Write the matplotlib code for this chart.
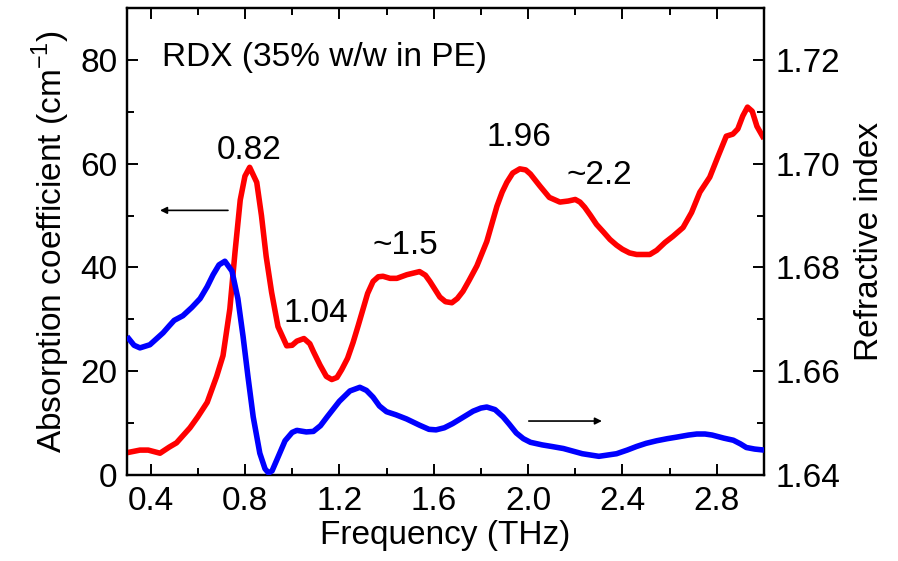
import numpy as np
import matplotlib
matplotlib.use("Agg")
import matplotlib.pyplot as plt
from matplotlib.ticker import MultipleLocator

plt.rcParams['font.family'] = ['Liberation Sans', 'DejaVu Sans']
plt.rcParams['mathtext.fontset'] = 'custom'
plt.rcParams['mathtext.rm'] = 'Liberation Sans'

# absorption coefficient (cm^-1), red
f_abs = [0.30, 0.355, 0.39, 0.44, 0.48, 0.51, 0.567, 0.60, 0.64, 0.68, 0.707,
         0.736, 0.758, 0.78, 0.80, 0.82, 0.85, 0.87, 0.89, 0.913, 0.94, 0.977,
         1.00, 1.02, 1.05, 1.075, 1.09, 1.118, 1.145, 1.168, 1.19, 1.21, 1.235,
         1.258, 1.28, 1.30, 1.32, 1.343, 1.365, 1.385, 1.415, 1.444, 1.486,
         1.54, 1.565, 1.584, 1.605, 1.626, 1.65, 1.677, 1.70, 1.724, 1.75,
         1.783, 1.825, 1.868, 1.89, 1.91, 1.935, 1.965, 1.99, 2.01, 2.05, 2.09,
         2.135, 2.17, 2.20, 2.22, 2.24, 2.265, 2.29, 2.32, 2.347, 2.375, 2.40,
         2.43, 2.46, 2.516, 2.545, 2.58, 2.614, 2.657, 2.693, 2.728, 2.77,
         2.805, 2.84, 2.868, 2.889, 2.91, 2.93, 2.95, 2.97, 3.00]
alpha = [4.3, 4.8, 4.8, 4.2, 5.4, 6.2, 9.1, 11.2, 14.0, 19.0, 23.0,
         32.0, 43.0, 53.0, 57.6, 59.3, 56.4, 50.0, 42.1, 35.2, 28.6, 24.9,
         25.0, 25.8, 26.3, 25.3, 23.8, 21.2, 19.0, 18.4, 18.8, 20.3, 22.5,
         25.5, 28.8, 31.9, 35.0, 37.3, 38.2, 38.3, 37.9, 37.9, 38.6,
         39.2, 38.5, 37.3, 35.8, 34.3, 33.4, 33.2, 34.0, 35.4, 37.5,
         40.3, 45.0, 51.8, 54.5, 56.4, 58.2, 59.0, 58.8, 58.0, 55.7, 53.5,
         52.6, 52.8, 53.1, 52.6, 51.6, 50.0, 48.3, 46.8, 45.4, 44.3, 43.5,
         42.8, 42.5, 42.5, 43.3, 44.8, 46.0, 47.7, 50.6, 54.5, 57.4,
         61.4, 65.3, 65.7, 66.7, 69.2, 70.9, 70.1, 67.2, 64.8]

# refractive index, blue
f_n = [0.30, 0.33, 0.355, 0.397, 0.453, 0.48, 0.50, 0.537, 0.575, 0.61, 0.64,
       0.665, 0.69, 0.715, 0.745, 0.77, 0.792, 0.813, 0.835, 0.863, 0.885,
       0.90, 0.915, 0.935, 0.97, 1.00, 1.02, 1.06, 1.09, 1.12, 1.15, 1.20,
       1.245, 1.287, 1.315, 1.343, 1.37, 1.40, 1.44, 1.485, 1.54, 1.58, 1.61,
       1.645, 1.68, 1.72, 1.767, 1.80, 1.825, 1.86, 1.894, 1.92, 1.95, 1.98,
       2.01, 2.06, 2.10, 2.15, 2.19, 2.23, 2.30, 2.375, 2.42, 2.46, 2.50,
       2.545, 2.59, 2.63, 2.68, 2.715, 2.75, 2.78, 2.83, 2.87, 2.90, 2.925,
       2.96, 3.00]
n_idx = [1.6667, 1.6650, 1.6645, 1.6651, 1.6674, 1.6688, 1.6698, 1.6707,
         1.6723, 1.6740, 1.6763, 1.6786, 1.6805, 1.6812, 1.6793, 1.6740,
         1.6667, 1.6589, 1.6512, 1.6442, 1.6412, 1.6404, 1.6408, 1.6429,
         1.6466, 1.6482, 1.6486, 1.6483, 1.6484, 1.6495, 1.6513, 1.6542,
         1.6562, 1.6569, 1.6563, 1.6550, 1.6533, 1.6522, 1.6516, 1.6508,
         1.6496, 1.6488, 1.6487, 1.6491, 1.6499, 1.6510, 1.6523, 1.6529,
         1.6531, 1.6526, 1.6512, 1.6498, 1.6481, 1.6470, 1.6463, 1.6458,
         1.6455, 1.6451, 1.6446, 1.6441, 1.6436, 1.6441, 1.6448, 1.6455,
         1.6461, 1.6466, 1.6470, 1.6473, 1.6477, 1.6479, 1.6479, 1.6477,
         1.6471, 1.6467, 1.6460, 1.6453, 1.6450, 1.6448]

peak_labels = ["0.82", "1.04", "~1.5", "1.96", "~2.2"]
peak_x = [0.817, 1.10, 1.478, 1.961, 2.304]
peak_y = [60.9, 29.4, 42.5, 63.4, 56.0]

fig = plt.figure(figsize=(8.98, 5.61), dpi=100)
ax = fig.add_axes([0.1414, 0.1533, 0.7094, 0.8324])
ax2 = ax.twinx()

ax.plot(f_abs, alpha, color='#ff0000', lw=4, solid_joinstyle='round',
        solid_capstyle='butt', zorder=3)
ax2.plot(f_n, n_idx, color='#0000ff', lw=4, solid_joinstyle='round',
         solid_capstyle='butt', zorder=3)

ax.set_xlim(0.3, 3.0)
ax.set_ylim(0, 90)
ax2.set_ylim(1.64, 1.73)

ax.set_xticks(np.arange(0.4, 3.0, 0.4))
ax.xaxis.set_minor_locator(MultipleLocator(0.2))
ax.yaxis.set_major_locator(MultipleLocator(20))
ax.yaxis.set_minor_locator(MultipleLocator(10))
ax2.set_yticks([1.64, 1.66, 1.68, 1.70, 1.72])
ax2.yaxis.set_minor_locator(MultipleLocator(0.01))
ax2.set_yticklabels(["1.64", "1.66", "1.68", "1.70", "1.72"])
ax.set_xticklabels(["%.1f" % v for v in np.arange(0.4, 3.0, 0.4)])

for a in (ax, ax2):
    for s in a.spines.values():
        s.set_linewidth(1.6)
ax.tick_params(which='both', direction='in', top=True, labelsize=24, width=1.4)
ax.tick_params(axis='y', pad=7)
ax.tick_params(axis='x', pad=8)
ax.tick_params(which='major', length=8)
ax.tick_params(which='minor', length=5)
ax2.tick_params(which='both', direction='in', labelsize=24, width=1.4, pad=8)
ax2.tick_params(which='major', length=8)
ax2.tick_params(which='minor', length=5)

ax.set_xlabel("Frequency (THz)", fontsize=24, labelpad=2)
ax.set_ylabel("Absorption coefficient (cm$^{-1}$)", fontsize=24, labelpad=6)
ax2.set_ylabel("Refractive index", fontsize=24, labelpad=10)

ax.text(1.139, 78.8, "RDX (35% w/w in PE)", fontsize=24, ha='center', va='baseline')
for lab, x, y in zip(peak_labels, peak_x, peak_y):
    ax.text(x, y, lab, fontsize=24, ha='center', va='baseline')

ax.annotate("", xy=(0.44, 51.0), xytext=(0.728, 51.0),
            arrowprops=dict(arrowstyle='-|>', color='black', lw=1.2,
                            mutation_scale=10, shrinkA=0, shrinkB=0))
ax.annotate("", xy=(2.313, 10.4), xytext=(2.003, 10.4),
            arrowprops=dict(arrowstyle='-|>', color='black', lw=1.2,
                            mutation_scale=10, shrinkA=0, shrinkB=0))

fig.savefig("out.png", dpi=100)
